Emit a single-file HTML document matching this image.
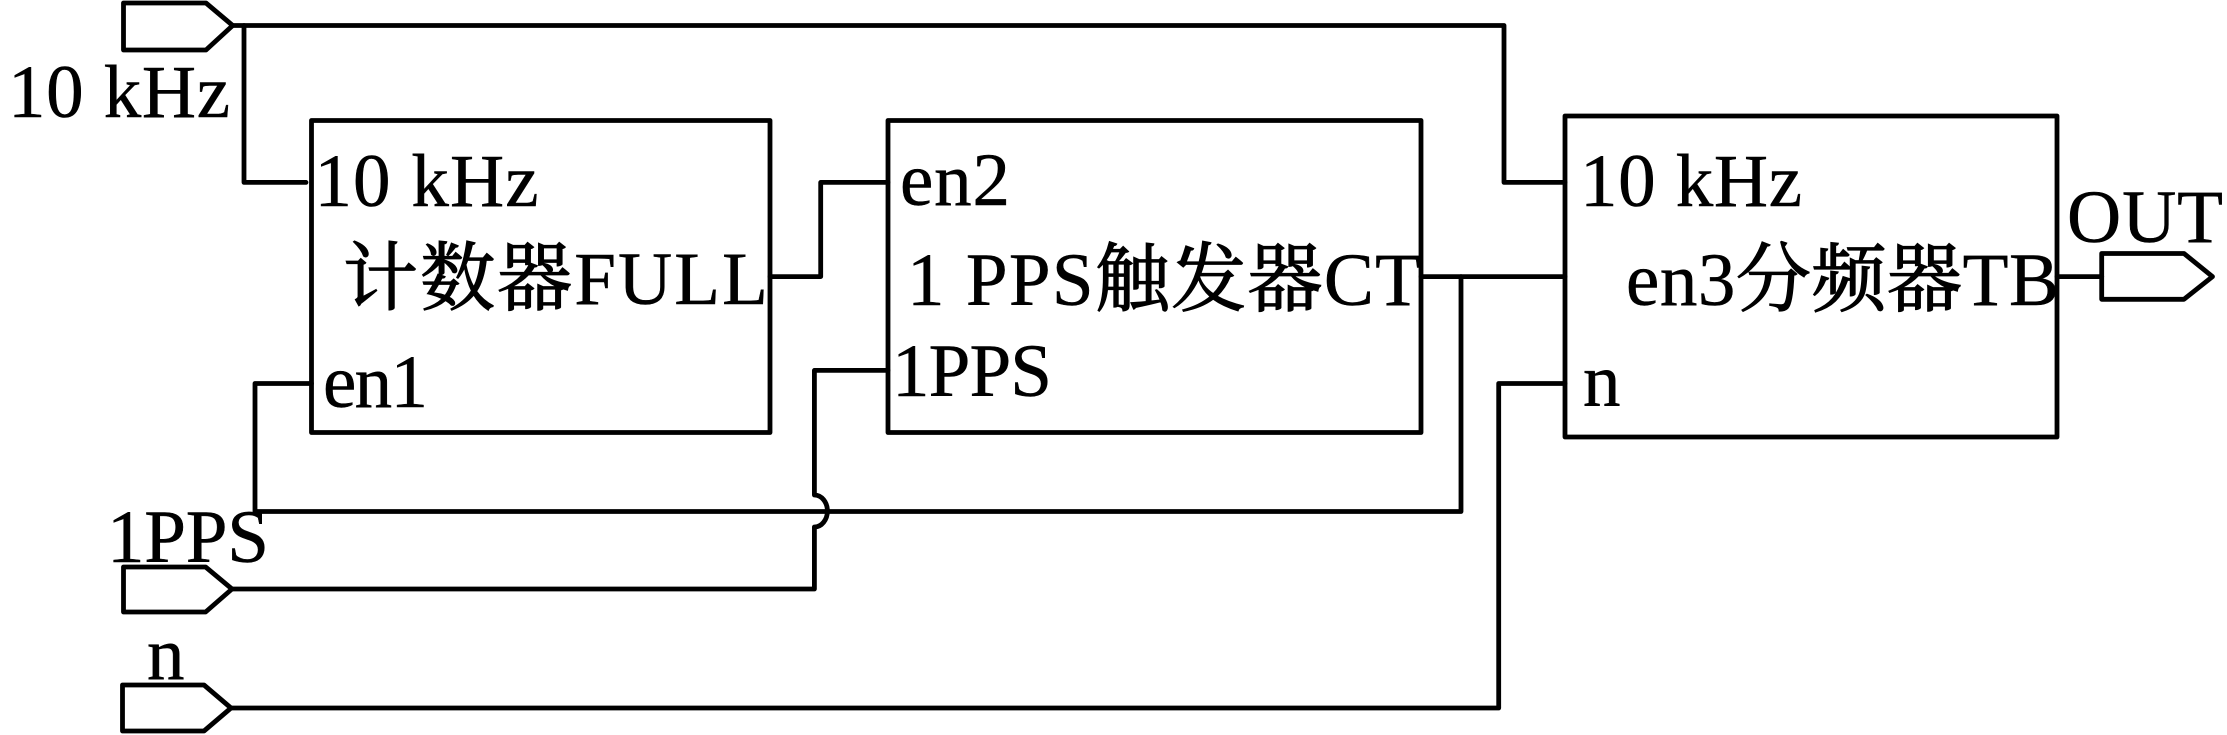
<!DOCTYPE html>
<html>
<head>
<meta charset="utf-8">
<style>
html,body{margin:0;padding:0;background:#fff;width:2227px;height:735px;overflow:hidden}
svg{display:block}
text{font-family:"Liberation Serif","Noto Serif CJK SC",serif;font-size:75px;fill:#000;stroke:#000;stroke-width:.5px}
tspan{stroke-width:1.3px}
</style>
</head>
<body>
<svg width="2227" height="735" viewBox="0 0 2227 735" xmlns="http://www.w3.org/2000/svg">
<rect width="2227" height="735" fill="#fff"/>
<g fill="none" stroke="#000" stroke-width="4.8" stroke-linejoin="round" stroke-linecap="round">
  <!-- boxes -->
  <rect x="311.5" y="120.5" width="458.5" height="312"/>
  <rect x="888" y="120.5" width="533" height="312"/>
  <rect x="1565" y="116" width="492" height="321"/>
  <!-- ports -->
  <path d="M123.5 3H206L232.7 25.5L206 50H123.5Z"/>
  <path d="M123.5 567H205.6L232 589L205.6 612H123.5Z"/>
  <path d="M122.5 685H204L231 708L204 731H122.5Z"/>
  <path d="M2101.7 253.5H2184L2212.5 276.6L2184 299.3H2101.7Z"/>
  <!-- wires -->
  <path d="M233 25.5H1504V182.4H1565"/>
  <path d="M244 25.5V182.4H306"/>
  <path d="M311.5 383.5H255V511.5H1461V276.6"/>
  <path d="M770 276.6H820.7V182.4H888"/>
  <path d="M888 370.4H814.4V495A13 16 0 0 1 814.4 527V589H232"/>
  <path d="M1421 276.6H1565"/>
  <path d="M231 708H1498.7V383.5H1565"/>
  <path d="M2057 276.6H2101.7"/>
</g>
<!-- labels -->
<text x="8" y="117" textLength="222">10 kHz</text>
<text x="314.5" y="206" textLength="224">10 kHz</text>
<text x="343" y="304" textLength="425"><tspan>计数器</tspan>FULL</text>
<text x="323" y="407" textLength="105">en1</text>
<text x="107" y="562" textLength="162">1PPS</text>
<text x="147" y="679" textLength="38">n</text>
<text x="900" y="205" textLength="110">en2</text>
<text x="907" y="305" textLength="514">1 PPS<tspan>触发器</tspan>CT</text>
<text x="892" y="396" textLength="160">1PPS</text>
<text x="1580" y="206" textLength="222">10 kHz</text>
<text x="1626" y="305" textLength="433">en3<tspan>分频器</tspan>TB</text>
<text x="1583" y="405.5" textLength="38">n</text>
<text x="2067" y="242" textLength="156">OUT</text>
</svg>
</body>
</html>
